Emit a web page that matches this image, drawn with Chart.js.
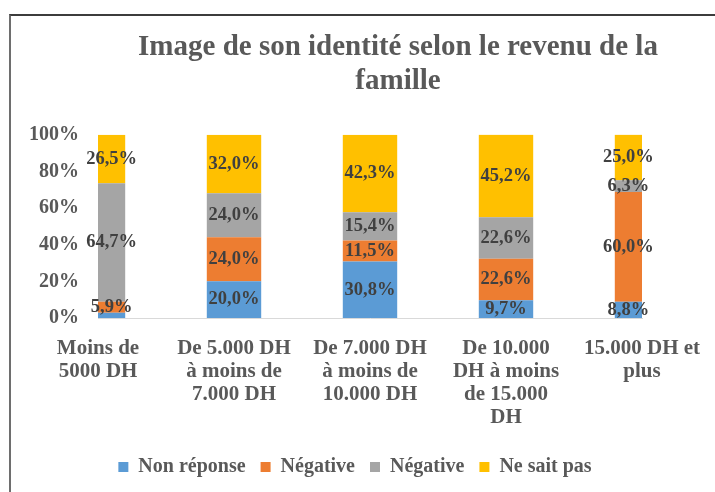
<!DOCTYPE html>
<html>
<head>
<meta charset="utf-8">
<script src="https://cdn.jsdelivr.net/npm/chart.js@4.4.1/dist/chart.umd.min.js"></script>
<style>
  body { margin: 0; background: #fff; overflow: hidden; }
  #frame { position: absolute; left: 9px; top: 14px; width: 800px; height: 600px;
           border-left: 2px solid #6e6e6e; border-top: 2px solid #3c3c3c; }
  #chart { position: absolute; left: 0; top: 0; }
</style>
</head>
<body>
<div id="frame"></div>
<canvas id="chart" width="715" height="492"></canvas>
<script>
// Catégories (revenu de la famille)
const categories = [
    ["Moins de", "5000 DH"],
    ["De 5.000 DH", "à moins de", "7.000 DH"],
    ["De 7.000 DH", "à moins de", "10.000 DH"],
    ["De 10.000", "DH à moins", "de 15.000", "DH"],
    ["15.000 DH et", "plus"]
];

// Séries (%)
const nonReponse = [2.9, 20.0, 30.8, 9.7, 8.8];
const negativeA  = [5.9, 24.0, 11.5, 22.6, 60.0];
const negativeB  = [64.7, 24.0, 15.4, 22.6, 6.3];
const neSaitPas  = [26.5, 32.0, 42.3, 45.2, 25.0];

const yTicks = [0, 20, 40, 60, 80, 100];

const serif = '"Liberation Serif", "Times New Roman", serif';

function fmt(v) {
    return v.toFixed(1).replace('.', ',') + '%';
}

// Étiquettes au centre de chaque segment (partie visible de la barre)
const barLabels = {
    id: 'barLabels',
    afterDatasetsDraw(chart) {
        const { ctx, chartArea } = chart;
        ctx.save();
        ctx.font = 'bold 18.5px ' + serif;
        ctx.fillStyle = '#404040';
        ctx.textAlign = 'center';
        ctx.textBaseline = 'middle';
        chart.data.datasets.forEach((ds, i) => {
            chart.getDatasetMeta(i).data.forEach((bar, j) => {
                const v = ds.data[j];
                if (v < 5) return; // trop petit, pas d'étiquette
                const { x, y, base, width } = bar.getProps(['x', 'y', 'base', 'width'], true);
                const l = Math.max(x - width / 2, chartArea.left);
                const r = Math.min(x + width / 2, chartArea.right);
                ctx.fillText(fmt(v), (l + r) / 2, (y + base) / 2);
            });
        });
        ctx.restore();
    }
};

// Titre et légende un peu décalés vers la droite dans l'original
const blockShift = {
    id: 'blockShift',
    afterLayout(chart) {
        const t = chart.titleBlock;
        if (t) { t.left += 77; t.right += 77; }
        const lg = chart.legend;
        if (lg) { lg.left += 34; lg.right += 34; }
    }
};

new Chart(document.getElementById('chart'), {
    type: 'bar',
    data: {
        labels: categories,
        datasets: [
            { label: 'Non réponse', data: nonReponse, backgroundColor: '#5B9BD5' },
            { label: 'Négative',    data: negativeA,  backgroundColor: '#ED7D31' },
            { label: 'Négative',    data: negativeB,  backgroundColor: '#A5A5A5' },
            { label: 'Ne sait pas', data: neSaitPas,  backgroundColor: '#FFC000' }
        ]
    },
    options: {
        responsive: false,
        animation: false,
        datasets: { bar: { categoryPercentage: 0.5, barPercentage: 0.8, borderWidth: 0 } },
        layout: { padding: { top: 0, left: 0, right: 73, bottom: 5 } },
        plugins: {
            title: {
                display: true,
                text: ['Image de son identité selon le revenu de la', 'famille'],
                color: '#595959',
                font: { family: serif, size: 29, weight: 'bold', lineHeight: 1.15 },
                padding: { top: 31, bottom: 37 }
            },
            legend: {
                position: 'bottom',
                labels: {
                    color: '#595959',
                    font: { family: serif, size: 20, weight: 'bold' },
                    boxWidth: 10,
                    boxHeight: 10,
                    padding: 15
                }
            },
            tooltip: { enabled: false }
        },
        scales: {
            x: {
                stacked: true,
                offset: false,
                grid: { display: false, offset: false },
                border: { display: true, color: '#D9D9D9', width: 1 },
                ticks: {
                    color: '#595959',
                    font: { family: serif, size: 21, weight: 'bold', lineHeight: 1.1 },
                    padding: 11,
                    maxRotation: 0,
                    autoSkip: false
                },
                afterFit(scale) {
                    scale.height = 124;
                    scale.paddingLeft = 0;
                    scale.paddingRight = 0;
                }
            },
            y: {
                stacked: true,
                min: 0,
                max: 100,
                grid: { display: false },
                border: { display: false },
                afterBuildTicks(scale) {
                    scale.ticks = yTicks.map(v => ({ value: v }));
                },
                ticks: {
                    color: '#595959',
                    font: { family: serif, size: 20, weight: 'bold' },
                    padding: 11,
                    callback: v => v + '%'
                },
                afterFit(scale) {
                    scale.width = 98;
                }
            }
        }
    },
    plugins: [barLabels, blockShift]
});
</script>
</body>
</html>
